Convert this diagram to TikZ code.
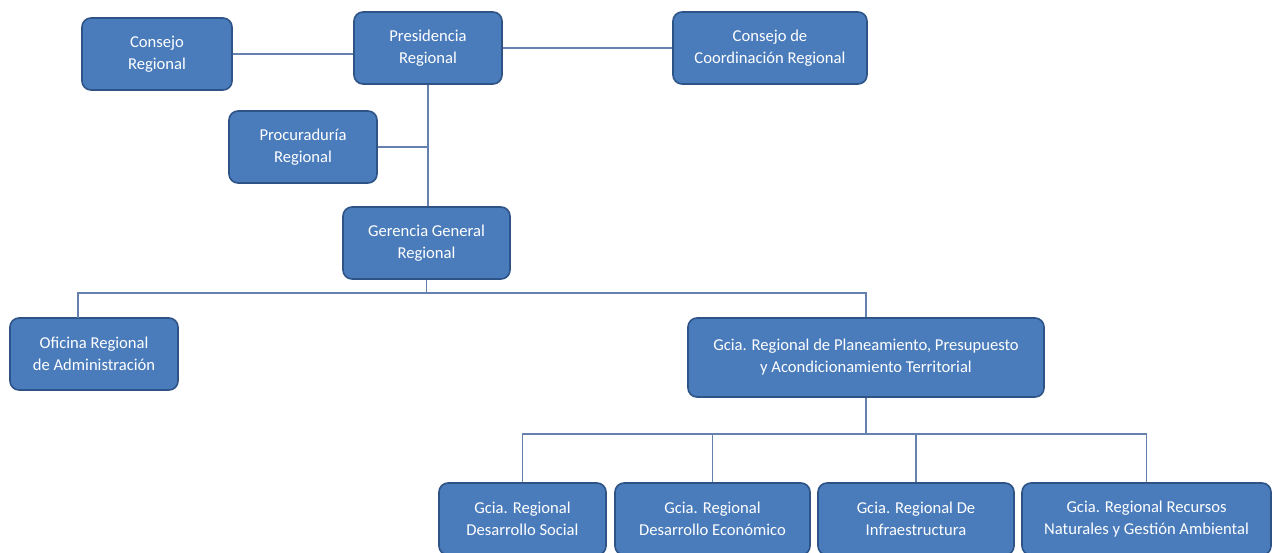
\documentclass[tikz,border=0pt]{standalone}
\usepackage{fontspec}
\setmainfont{Carlito}
\definecolor{boxfill}{HTML}{4A7CBC}
\definecolor{boxdraw}{HTML}{2E5487}
\definecolor{linec}{HTML}{6482AD}
\begin{document}
\begin{tikzpicture}[x=1pt,y=-1pt,
  orgbox/.style={draw=boxdraw, fill=boxfill, line width=1.6pt, rounded corners=9pt,
    text=white, align=center, font=\fontsize{16.6}{22}\selectfont, inner sep=2pt},
  conn/.style={draw=linec, line width=1.3pt}]
\useasboundingbox (0,0) rectangle (1279,552);
\clip (0,0) rectangle (1279,552);
\node[orgbox, minimum width=150pt, minimum height=72pt] (cr) at (157,54) {Consejo\\Regional};
\node[orgbox, minimum width=148pt, minimum height=72pt] (pr) at (428,48) {Presidencia\\Regional};
\node[orgbox, minimum width=194pt, minimum height=72pt] (ccr) at (770,48) {Consejo de\\Coordinación Regional};
\node[orgbox, minimum width=148pt, minimum height=72pt] (proc) at (303,147) {Procuraduría\\Regional};
\node[orgbox, minimum width=167pt, minimum height=72pt] (ger) at (426.5,243) {Gerencia General\\Regional};
\node[orgbox, minimum width=168pt, minimum height=72pt] (ofi) at (94,354) {Oficina Regional\\de Administración};
\node[orgbox, minimum width=356pt, minimum height=79pt] (plan) at (866,357.5) {Gcia. Regional de Planeamiento, Presupuesto\\y Acondicionamiento Territorial};
\node[orgbox, minimum width=167pt, minimum height=72pt] (b1) at (522.5,519) {Gcia. Regional\\Desarrollo Social};
\node[orgbox, minimum width=195pt, minimum height=72pt] (b2) at (712.5,519) {Gcia. Regional\\Desarrollo Económico};
\node[orgbox, minimum width=196pt, minimum height=72pt] (b3) at (916,519) {Gcia. Regional De\\Infraestructura};
\node[orgbox, minimum width=249pt, minimum height=72pt] (b4) at (1146.5,519) {Gcia. Regional Recursos\\Naturales y Gestión Ambiental};
\coordinate (hub) at (426.5,293);
\coordinate (ofiL) at (78,293);
\coordinate (ofiT) at (78,318);
\coordinate (hub2) at (866,434);
\draw[conn] (cr.east) -- (cr.east -| pr.west);
\draw[conn] (pr.east) -- (ccr.west);
\draw[conn] (pr.south) -- (pr.south |- ger.north);
\draw[conn] (proc.east) -- (proc.east -| pr.south);
\draw[conn] (ger.south) -- (hub);
\draw[conn] (ofiT) -- (ofiL) -- (hub -| plan.north) -- (plan.north);
\draw[conn] (plan.south) -- (hub2);
\draw[conn] (b1.north) -- (b1.north |- hub2) -- (b4.north |- hub2) -- (b4.north);
\draw[conn] (b2.north) -- (b2.north |- hub2);
\draw[conn] (b3.north) -- (b3.north |- hub2);
\end{tikzpicture}
\end{document}
